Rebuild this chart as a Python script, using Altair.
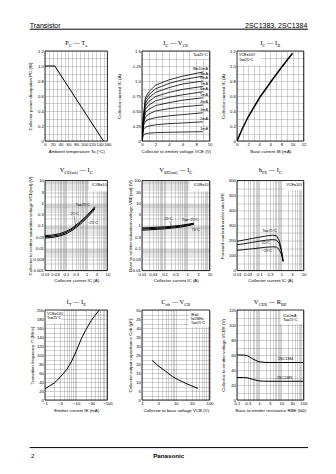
import math
import altair as alt
import pandas as pd

# ---------------- data ----------------
# P_C - Ta
pc_ta = [0, 25, 150]
pc_w = [1.0, 1.0, 0.0]

# I_C - V_CE  (Ta = 25 C)
icv_vce = [0, 0.2, 0.5, 1, 2, 4, 6, 9]
icv_ib = ["10mA", "9mA", "8mA", "7mA", "6mA", "5mA", "4mA", "3mA", "2mA", "1mA"]
icv_ic = [
    [0, 0.40, 0.72, 0.82, 0.93, 1.02, 1.08, 1.15],
    [0, 0.38, 0.68, 0.77, 0.87, 0.96, 1.02, 1.08],
    [0, 0.36, 0.63, 0.72, 0.81, 0.89, 0.95, 1.00],
    [0, 0.34, 0.58, 0.66, 0.74, 0.81, 0.86, 0.91],
    [0, 0.32, 0.53, 0.60, 0.67, 0.73, 0.77, 0.82],
    [0, 0.30, 0.47, 0.53, 0.59, 0.64, 0.68, 0.72],
    [0, 0.28, 0.40, 0.45, 0.50, 0.54, 0.57, 0.60],
    [0, 0.25, 0.33, 0.36, 0.39, 0.42, 0.44, 0.47],
    [0, 0.19, 0.23, 0.25, 0.27, 0.29, 0.30, 0.32],
    [0, 0.10, 0.12, 0.13, 0.14, 0.145, 0.15, 0.155],
]

# I_C - I_B
ici_ib = [0, 1, 2, 4, 6, 8, 10]
ici_ic = [0, 0.17, 0.32, 0.57, 0.78, 0.98, 1.17]

# V_CE(sat) - I_C
vce_ic = [0.01, 0.02, 0.05, 0.1, 0.2, 0.5, 1, 2, 2.5]
vce_ta = ["75", "25", "-25"]
vce_v = [
    [0.036, 0.037, 0.043, 0.054, 0.076, 0.15, 0.27, 0.54, 0.69],
    [0.032, 0.033, 0.038, 0.048, 0.068, 0.13, 0.24, 0.48, 0.62],
    [0.028, 0.029, 0.034, 0.042, 0.060, 0.115, 0.21, 0.42, 0.55],
]

# V_BE(sat) - I_C
vbe_ic = [0.01, 0.02, 0.05, 0.1, 0.2, 0.5, 1, 2]
vbe_ta = ["-25", "25", "75"]
vbe_v = [
    [0.78, 0.80, 0.84, 0.87, 0.92, 1.01, 1.12, 1.28],
    [0.70, 0.72, 0.76, 0.79, 0.84, 0.93, 1.04, 1.20],
    [0.62, 0.64, 0.68, 0.71, 0.76, 0.85, 0.96, 1.12],
]

# h_FE - I_C
hfe_ic = [0.01, 0.02, 0.05, 0.1, 0.2, 0.4, 0.6, 0.8, 1.0, 1.2]
hfe_ta = ["75", "25", "-25"]
hfe_h = [
    [195, 203, 214, 222, 230, 235, 232, 200, 140, 65],
    [172, 178, 188, 195, 202, 206, 203, 180, 130, 62],
    [135, 139, 145, 150, 155, 158, 156, 140, 110, 58],
]

# f_T - I_E  (|I_E| in mA, drawn as negative labels)
ft_ie = [1, 2, 3, 5, 7, 10, 15, 20, 30, 40, 55]
ft_f = [25, 38, 50, 68, 85, 108, 138, 155, 176, 188, 200]

# C_ob - V_CB
cob_vcb = [2, 3, 5, 8, 12, 20, 30, 45]
cob_c = [22, 19, 16, 13, 11.2, 9.2, 7.8, 6.5]

# V_CER - R_BE
vcer_rbe = [0.1, 0.2, 0.3, 0.5, 0.8, 1, 2, 10, 100]
vcer_type = ["2SC1384", "2SC1383"]
vcer_v = [
    [60, 60, 59, 55, 52, 51, 50, 50, 50],
    [30, 30, 29.5, 27.5, 26, 25.5, 25, 25, 25],
]

# tick labels
lab_pc_x = [0, 20, 40, 60, 80, 100, 120, 140, 160]
lab_pc_y = [(0, "0"), (0.2, "0.2"), (0.4, "0.4"), (0.6, "0.6"), (0.8, "0.8"), (1.0, "1.0"), (1.2, "1.2")]
lab_icv_x = [0, 2, 4, 6, 8, 10]
lab_icv_y = [(0, "0"), (0.25, "0.25"), (0.5, "0.50"), (0.75, "0.75"), (1.0, "1.0"), (1.25, "1.25"), (1.5, "1.5")]
lab_ici_x = [0, 2, 4, 6, 8, 10, 12]
lab_ic_log = [(0.01, "0.01"), (0.03, "0.03"), (0.1, "0.1"), (0.3, "0.3"), (1, "1"), (3, "3"), (10, "10")]
lab_vce_y = [(0.001, "0.001"), (0.003, "0.003"), (0.01, "0.01"), (0.03, "0.03"), (0.1, "0.1"),
             (0.3, "0.3"), (1, "1"), (3, "3"), (10, "10")]
lab_vbe_y = [(0.01, "0.01"), (0.03, "0.03"), (0.1, "0.1"), (0.3, "0.3"), (1, "1"), (3, "3"),
             (10, "10"), (30, "30"), (100, "100")]
lab_hfe_y = [0, 100, 200, 300, 400, 500, 600]
lab_ft_x = [(1, "\u22121"), (3, "\u22123"), (10, "\u221210"), (30, "\u221230"), (100, "\u2212100")]
lab_ft_y = [0, 20, 40, 60, 80, 100, 120, 140, 160, 180, 200]
lab_cob_x = [(1, "1"), (3, "3"), (10, "10"), (30, "30"), (100, "100")]
lab_cob_y = [0, 5, 10, 15, 20, 25, 30, 35, 40, 45, 50]
lab_rbe_x = [(0.1, "0.1"), (0.3, "0.3"), (1, "1"), (3, "3"), (10, "10"), (30, "30"), (100, "100")]
lab_vcer_y = [0, 20, 40, 60, 80, 100, 120]

# ---------------- helpers ----------------
ONE = pd.DataFrame({"o": [0]})
SANS = "Liberation Sans"
SERIF = "Liberation Serif"
W_TIMES = {" ": 0.25, "\u2014": 1.0, "P": 0.556, "C": 0.667, "T": 0.611, "a": 0.444, "I": 0.333,
           "V": 0.722, "E": 0.611, "B": 0.667, "(": 0.333, ")": 0.333, "s": 0.389, "t": 0.278,
           "h": 0.5, "F": 0.556, "f": 0.333, "o": 0.5, "b": 0.5, "R": 0.667}


def lin_vals(lo, hi, step):
    n = int(round((hi - lo) / step))
    return [round(lo + i * step, 6) for i in range(n + 1)]


def log_vals(lo, hi):
    a, b = int(round(math.log10(lo))), int(round(math.log10(hi)))
    out = []
    for e in range(a, b):
        for m in range(1, 10):
            out.append(round(m * 10 ** e, 10))
    out.append(round(10 ** b, 10))
    return out


def lab_expr(pairs, log):
    parts = []
    for v, s in pairs:
        if log:
            c = f"abs(datum.value/{v!r}-1)<1e-6"
        else:
            c = f"abs(datum.value-({v!r}))<1e-6"
        parts.append(f"{c}?'{s}'")
    return ":".join(parts) + ":''"


def pairs_of(vals):
    return [(v, str(v)) for v in vals]


AX = dict(grid=True, gridColor="#8c8c8c", gridWidth=0.4, domain=False, ticks=False,
          labelFont=SANS, labelFontSize=4.2, labelColor="black", labelPadding=1.6,
          labelOverlap=False, labelFlush=False, titleFont=SANS, titleFontSize=4.4,
          titleFontWeight="normal", titleColor="black")


def px_text(t, x, y, size, font=SANS, align="left", weight="normal", baseline="alphabetic"):
    return alt.Chart(ONE).mark_text(text=t, font=font, fontSize=size, align=align,
                                    baseline=baseline, fontWeight=weight, color="black").encode(
        x=alt.value(x), y=alt.value(y))


def title_layers(segs, cx, base_y, size=6.4):
    sub = size * 0.7
    widths = [sum(W_TIMES.get(ch, 0.5) for ch in t) * (sub if s else size) for t, s in segs]
    x = cx - sum(widths) / 2
    out = []
    for (t, s), w in zip(segs, widths):
        fs = sub if s else size
        lead = (len(t) - len(t.lstrip())) * W_TIMES[" "] * fs
        out.append(px_text(t.strip(), x + lead, base_y + (1.6 if s else 0), fs, font=SERIF))
        x += w
    return out


def panel(p):
    pw, ph = p["pw"], p["ph"]
    xs = alt.Scale(type=p["xt"], domain=p["xd"], range=[0, pw], nice=False, zero=False)
    ys = alt.Scale(type=p["yt"], domain=p["yd"], range=[ph, 0], nice=False, zero=False)
    xaxis = alt.Axis(values=p["xg"], labelExpr=lab_expr(p["xl"], p["xt"] == "log"), title=p["xtitle"],
                     titleY=10, titleBaseline="middle", **AX)
    yaxis = alt.Axis(values=p["yg"], labelExpr=lab_expr(p["yl"], p["yt"] == "log"), title=p["ytitle"],
                     titleX=p["ytx"], titleY=ph / 2, titleBaseline="middle", titleAngle=270, **AX)

    def X(f):
        return alt.X(f, scale=xs, axis=xaxis)

    def Y(f):
        return alt.Y(f, scale=ys, axis=yaxis)

    layers = []
    if p.get("boxes"):
        bdf = pd.DataFrame(p["boxes"], columns=["x", "x2", "y", "y2"])
        layers.append(alt.Chart(bdf).mark_rect(fill="white", strokeWidth=0).encode(
            x=X("x:Q"), x2="x2:Q", y=Y("y:Q"), y2="y2:Q"))
    layers.append(alt.Chart(p["df"]).mark_line(color="black", strokeWidth=p.get("lw", 0.9),
                                               clip=True).encode(
        x=X("x:Q"), y=Y("y:Q"), detail="s:N"))
    for (x1, y1, x2, y2) in p.get("ptr", []):
        pdf = pd.DataFrame({"x": [x1], "y": [y1], "x2": [x2], "y2": [y2]})
        layers.append(alt.Chart(pdf).mark_rule(color="black", strokeWidth=0.4).encode(
            x=X("x:Q"), y=Y("y:Q"), x2="x2:Q", y2="y2:Q"))
    notes = pd.DataFrame(p.get("notes", []), columns=["t", "x", "y", "a"])
    for al in ["left", "right", "center"]:
        sub = notes[notes["a"] == al]
        if len(sub):
            layers.append(alt.Chart(sub).mark_text(align=al, baseline="middle", font=SANS,
                                                   fontSize=3.7, color="black").encode(
                x=X("x:Q"), y=Y("y:Q"), text="t:N"))
    fdf = pd.DataFrame({"x": [p["xd"][0]], "x2": [p["xd"][1]], "y": [p["yd"][0]], "y2": [p["yd"][1]]})
    layers.append(alt.Chart(fdf).mark_rect(fill=None, stroke="black", strokeWidth=0.8).encode(
        x=X("x:Q"), x2="x2:Q", y=Y("y:Q"), y2="y2:Q"))
    layers += title_layers(p["title"], pw / 2, p["ty"])
    layers += p.get("extra", [])
    return alt.layer(*layers).properties(width=p["lw_layout"], height=ph)


def long_df(xv, names, ys):
    rows = []
    for n, yv in zip(names, ys):
        for a, b in zip(xv, yv):
            rows.append({"x": a, "y": b, "s": n})
    return pd.DataFrame(rows)


# ---------------- layout (plot areas) ----------------
PW = [62.4, 67.6, 66.6]
LW = [96.4, 95.0, 66.6]
PH = 90

# header / footer (placed relative to the first panel's plot origin)
page = [
    alt.Chart(ONE).mark_rect(opacity=0).encode(x=alt.value(-44.3), x2=alt.value(-43.3),
                                               y=alt.value(-50.3), y2=alt.value(-49.3)),
    px_text("Transistor", -15.3, -23.5, 7.0),
    px_text("2SC1383, 2SC1384", 262.3, -23.5, 7.0, align="right"),
    alt.Chart(ONE).mark_rule(color="black", strokeWidth=1).encode(
        x=alt.value(-15.3), x2=alt.value(263.0), y=alt.value(-21.8)),
    alt.Chart(ONE).mark_rule(color="black", strokeWidth=1).encode(
        x=alt.value(-15.3), x2=alt.value(263.0), y=alt.value(396.6)),
    px_text("2", -14.0, 407.3, 6.0),
    px_text("Panasonic", 123.7, 407.3, 6.2, align="center", weight="bold"),
]

panels = []

panels.append(panel(dict(
    pw=PW[0], ph=PH, lw_layout=LW[0], xt="linear", yt="linear", xd=[0, 160], yd=[0, 1.2],
    xg=lin_vals(0, 160, 10), xl=pairs_of(lab_pc_x), yg=lin_vals(0, 1.2, 0.1), yl=lab_pc_y,
    xtitle="Ambient temperature  Ta  (\u00b0C)", ytitle="Collector power dissipation  PC  (W)", ytx=-15,
    df=long_df(pc_ta, ["pc"], [pc_w]), lw=1.0,
    title=[("P", 0), ("C", 1), (" \u2014 T", 0), ("a", 1)], ty=-5.8, extra=page)))

icv_notes = [("Ta=25\u00b0C", 9.7, 1.43, "right")]
for i, (n, ys_) in enumerate(zip(icv_ib, icv_ic)):
    icv_notes.append((("IB=" + n) if i == 0 else n, 9.75, ys_[-1] + 0.045, "right"))
panels.append(panel(dict(
    pw=PW[1], ph=PH, lw_layout=LW[1], xt="linear", yt="linear", xd=[0, 10], yd=[0, 1.5],
    xg=lin_vals(0, 10, 1), xl=pairs_of(lab_icv_x), yg=lin_vals(0, 1.5, 0.125), yl=lab_icv_y,
    xtitle="Collector to emitter voltage  VCE  (V)", ytitle="Collector current  IC  (A)", ytx=-22.5,
    df=long_df(icv_vce, icv_ib, icv_ic), lw=0.8, boxes=[(7.3, 10, 1.37, 1.5)], notes=icv_notes,
    title=[("I", 0), ("C", 1), (" \u2014 V", 0), ("CE", 1)], ty=-5.8)))

panels.append(panel(dict(
    pw=PW[2], ph=PH, lw_layout=LW[2], xt="linear", yt="linear", xd=[0, 12], yd=[0, 1.2],
    xg=lin_vals(0, 12, 1), xl=pairs_of(lab_ici_x), yg=lin_vals(0, 1.2, 0.1), yl=lab_pc_y,
    xtitle="Base current  IB  (mA)", ytitle="Collector current  IC  (A)", ytx=-14,
    df=long_df(ici_ib, ["ic"], [ici_ic]), lw=1.5, boxes=[(0, 4.2, 1.01, 1.2)],
    notes=[("VCE=10V", 0.35, 1.145, "left"), ("Ta=25\u00b0C", 0.35, 1.075, "left")],
    title=[("I", 0), ("C", 1), (" \u2014 I", 0), ("B", 1)], ty=-5.8)))

panels.append(panel(dict(
    pw=PW[0], ph=PH, lw_layout=LW[0], xt="log", yt="log", xd=[0.01, 10], yd=[0.001, 10],
    xg=log_vals(0.01, 10), xl=lab_ic_log, yg=log_vals(0.001, 10), yl=lab_vce_y,
    xtitle="Collector current  IC  (A)", ytitle="Collector to emitter saturation voltage  VCE(sat)  (V)",
    ytx=-15, df=long_df(vce_ic, vce_ta, vce_v), lw=1.0, boxes=[(1.3, 10, 3.3, 10)],
    notes=[("IC/IB=10", 9.0, 6.0, "right"), ("Ta=75\u00b0C", 0.3, 0.78, "left"),
           ("25\u00b0C", 0.17, 0.33, "left"), ("\u221225\u00b0C", 1.1, 0.13, "left")],
    ptr=[(0.25, 0.26, 0.3, 0.1)],
    title=[("V", 0), ("CE(sat)", 1), (" \u2014 I", 0), ("C", 1)], ty=-8.5)))

panels.append(panel(dict(
    pw=PW[1], ph=PH, lw_layout=LW[1], xt="log", yt="log", xd=[0.01, 10], yd=[0.01, 100],
    xg=log_vals(0.01, 10), xl=lab_ic_log, yg=log_vals(0.01, 100), yl=lab_vbe_y,
    xtitle="Collector current  IC  (A)", ytitle="Base to emitter saturation voltage  VBE(sat)  (V)",
    ytx=-12, df=long_df(vbe_ic, vbe_ta, vbe_v), lw=1.0, boxes=[(1.3, 10, 33, 100)],
    notes=[("IC/IB=10", 9.0, 60, "right"), ("25\u00b0C", 0.1, 1.85, "left"),
           ("Ta=\u221225\u00b0C", 0.6, 1.75, "left"), ("75\u00b0C", 1.6, 0.62, "left")],
    ptr=[(0.17, 1.55, 0.2, 0.9)],
    title=[("V", 0), ("BE(sat)", 1), (" \u2014 I", 0), ("C", 1)], ty=-8.5)))

panels.append(panel(dict(
    pw=PW[2], ph=PH, lw_layout=LW[2], xt="log", yt="linear", xd=[0.01, 10], yd=[0, 600],
    xg=log_vals(0.01, 10), xl=lab_ic_log, yg=lin_vals(0, 600, 50), yl=pairs_of(lab_hfe_y),
    xtitle="Collector current  IC  (A)", ytitle="Forward current transfer ratio  hFE", ytx=-15,
    df=long_df(hfe_ic, hfe_ta, hfe_h), lw=0.9, boxes=[(1.4, 10, 535, 600)],
    notes=[("VCE=10V", 9.0, 568, "right"), ("Ta=75\u00b0C", 0.14, 262, "left"),
           ("25\u00b0C", 0.13, 182, "left"), ("\u221225\u00b0C", 0.13, 132, "left")],
    title=[("h", 0), ("FE", 1), (" \u2014 I", 0), ("C", 1)], ty=-8.5)))

panels.append(panel(dict(
    pw=PW[0], ph=PH, lw_layout=LW[0], xt="log", yt="linear", xd=[1, 100], yd=[0, 200],
    xg=log_vals(1, 100), xl=lab_ft_x, yg=lin_vals(0, 200, 10), yl=pairs_of(lab_ft_y),
    xtitle="Emitter current  IE  (mA)", ytitle="Transition frequency  fT  (MHz)", ytx=-12.5,
    df=long_df(ft_ie, ["ft"], [ft_f]), lw=1.0, boxes=[(1, 3.3, 172, 200)],
    notes=[("VCB=10V", 1.15, 192, "left"), ("Ta=25\u00b0C", 1.15, 182.5, "left")],
    title=[("f", 0), ("T", 1), (" \u2014 I", 0), ("E", 1)], ty=-5.8)))

panels.append(panel(dict(
    pw=PW[1], ph=PH, lw_layout=LW[1], xt="log", yt="linear", xd=[1, 100], yd=[0, 50],
    xg=log_vals(1, 100), xl=lab_cob_x, yg=lin_vals(0, 50, 2.5), yl=pairs_of(lab_cob_y),
    xtitle="Collector to base voltage  VCB  (V)", ytitle="Collector output capacitance  Cob  (pF)",
    ytx=-12, df=long_df(cob_vcb, ["cob"], [cob_c]), lw=1.0, boxes=[(24, 100, 40.6, 50)],
    notes=[("IE=0", 28, 47.4, "left"), ("f=1MHz", 28, 45.0, "left"), ("Ta=25\u00b0C", 28, 42.6, "left")],
    title=[("C", 0), ("ob", 1), (" \u2014 V", 0), ("CB", 1)], ty=-5.8)))

panels.append(panel(dict(
    pw=PW[2], ph=PH, lw_layout=LW[2], xt="log", yt="linear", xd=[0.1, 100], yd=[0, 120],
    xg=log_vals(0.1, 100), xl=lab_rbe_x, yg=lin_vals(0, 120, 10), yl=pairs_of(lab_vcer_y),
    xtitle="Base to emitter resistance  RBE  (k\u03a9)", ytitle="Collector to emitter voltage  VCER  (V)",
    ytx=-14, df=long_df(vcer_rbe, vcer_type, vcer_v), lw=1.0, boxes=[(9, 100, 101, 120)],
    notes=[("IC=1mA", 12, 112, "left"), ("Ta=25\u00b0C", 12, 106.5, "left"),
           ("2SC1384", 7.0, 54.5, "left"), ("2SC1383", 6.2, 29.5, "left")],
    title=[("V", 0), ("CER", 1), (" \u2014 R", 0), ("BE", 1)], ty=-5.8)))

chart = alt.concat(*panels, columns=3, spacing={"row": 39.5, "column": 0},
                   bounds="flush", align="each").properties(padding=0, background="white"
                   ).configure_view(stroke=None)

chart.save("out.html", embed_options={"renderer": "svg", "actions": False})
